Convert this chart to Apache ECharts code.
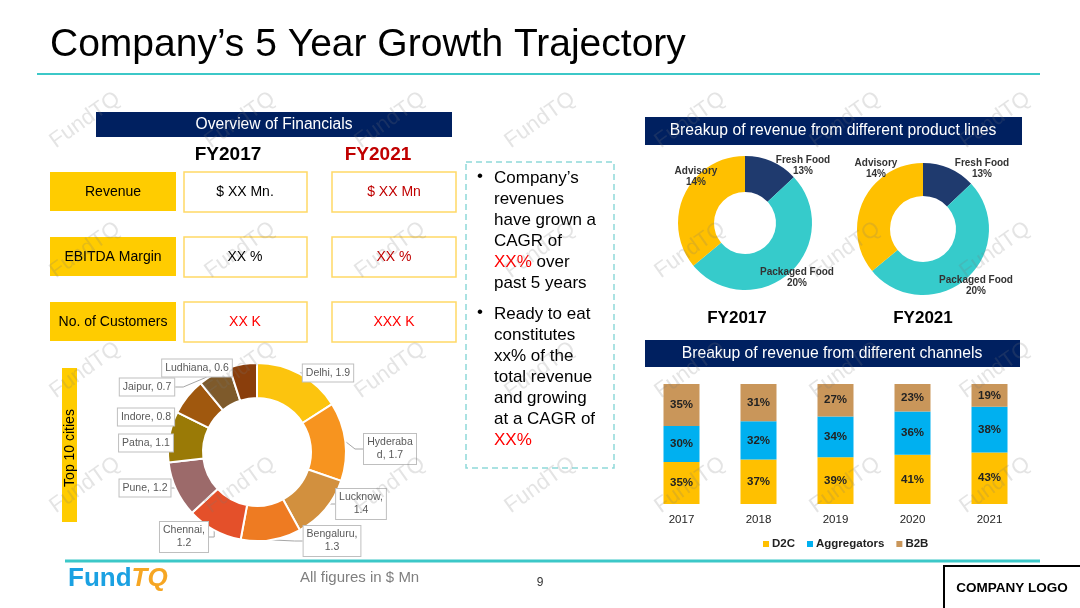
<!DOCTYPE html>
<html>
<head>
<meta charset="utf-8">
<script src="https://cdn.jsdelivr.net/npm/echarts@6/dist/echarts.min.js"></script>
<style>
html,body{margin:0;padding:0;background:#fff;}
#c{width:1080px;height:608px;}
</style>
</head>
<body>
<div id="c"></div>
<script>
// ---------- DATA ----------
const cityNames = ['Delhi','Hyderabad','Lucknow','Bengaluru','Chennai','Pune','Patna','Indore','Jaipur','Ludhiana'];
const cityValues = [1.9,1.7,1.4,1.3,1.2,1.2,1.1,0.8,0.7,0.6];
const productNames = ['Fresh Food','Packaged Food','Advisory'];
const productShare2017 = [13,51,36];
const productShare2021 = [13,51,36];
const productLabels2017 = ['13%','20%','14%'];
const productLabels2021 = ['13%','20%','14%'];
const channelYears = ['2017','2018','2019','2020','2021'];
const d2c = [35,37,39,41,43];
const aggregators = [30,32,34,36,38];
const b2b = [35,31,27,23,19];
const finRows = ['Revenue','EBITDA Margin','No. of Customers'];
const fin2017 = ['$ XX Mn.','XX %','XX K'];
const fin2021 = ['$ XX Mn','XX %','XXX K'];

// ---------- STYLES / LAYOUT ----------
const FONT = '"Liberation Sans", Arial, sans-serif';
const NAVY = '#002060';
const TEAL = '#3CC8C8';
const cityColors = ['#FCC40E','#F7941F','#D2903E','#EE7B22','#E4502A','#9C6A6A','#9A7A06','#A0580E','#7E5A2B','#8A3E0C'];
const productColors = ['#1F3A6E','#36CBCB','#FFC000'];
// label box centres (layout only)
const cityLabelPos = [[328,373],[390,449],[361,504],[332,541],[184,537],[145,488],[146,443],[146,417],[147,387],[197,368]];
const cityLabelWrap = [false,'break',true,true,true,false,false,false,false,false];
const prodLabelPos2017 = [[803,166],[797,278],[696,177]];
const prodLabelPos2021 = [[982,169],[976,286],[876,169]];

const chart = echarts.init(document.getElementById('c'), null, {renderer:'canvas'});
const g = [];
function txt(x,y,text,opt){ g.push(Object.assign({type:'text',z:10,style:Object.assign({x:x,y:y,text:text,font:'13px '+FONT,fill:'#000',textAlign:'center',textVerticalAlign:'middle'},opt||{})})); }
function rect(x,y,w,h,style){ g.push({type:'rect',z:5,shape:{x:x,y:y,width:w,height:h},style:style}); }

// watermarks
const wmX = [85,240,390,540,690,845,995];
const wmY = [120,250,370,485];
wmX.forEach(function(x){ wmY.forEach(function(y){
  g.push({type:'text',z:50,x:x,y:y,rotation:0.62,style:{text:'FundTQ',font:'22px '+FONT,fill:'rgba(120,120,120,0.2)',textAlign:'center',textVerticalAlign:'middle'}});
});});

// title
txt(50,45,'Company\u2019s 5 Year Growth Trajectory',{font:'39px '+FONT,textAlign:'left'});
g.push({type:'line',z:5,shape:{x1:37,y1:74,x2:1040,y2:74},style:{stroke:TEAL,lineWidth:2}});
g.push({type:'line',z:5,shape:{x1:65,y1:561,x2:1040,y2:561},style:{stroke:TEAL,lineWidth:3}});

// financial overview
rect(96,112,356,25,{fill:NAVY});
txt(274,125,'Overview of Financials',{font:'15.6px '+FONT,fill:'#fff'});
txt(228,155,'FY2017',{font:'bold 19px '+FONT});
txt(378,155,'FY2021',{font:'bold 19px '+FONT,fill:'#C00000'});
const rowTop = [172,237,302];
const c17 = ['#000','#000','#FF0000'];
const c21 = ['#C00000','#C00000','#FF0000'];
finRows.forEach(function(r,i){
  const y = rowTop[i];
  rect(50,y,126,39,{fill:'#FFCC00'});
  txt(113,y+20,r,{font:'14px '+FONT});
  rect(184,y,123,40,{fill:'#fff',stroke:'#FFD966',lineWidth:1.5});
  txt(245,y+20,fin2017[i],{fill:c17[i],font:'14px '+FONT});
  rect(332,y,124,40,{fill:'#fff',stroke:'#FFD966',lineWidth:1.5});
  txt(394,y+20,fin2021[i],{fill:c21[i],font:'14px '+FONT});
});

// bullet box
rect(466,162,148,306,{fill:'none',stroke:'#8ED9D9',lineWidth:1.5,lineDash:[6,4]});
const bRich = {r:{fill:'#FF0000',font:'17px '+FONT}};
g.push({type:'text',z:10,style:{x:477,y:168,text:'\u2022',font:'17px '+FONT,fill:'#000'}});
g.push({type:'text',z:10,style:{x:494,y:168,text:'Company\u2019s\nrevenues\nhave grown a\nCAGR of\n{r|XX%} over\npast 5 years',font:'17px '+FONT,fill:'#000',lineHeight:21,rich:bRich}});
g.push({type:'text',z:10,style:{x:477,y:304,text:'\u2022',font:'17px '+FONT,fill:'#000'}});
g.push({type:'text',z:10,style:{x:494,y:304,text:'Ready to eat\nconstitutes\nxx% of the\ntotal revenue\nand growing\nat a CAGR of\n{r|XX%}',font:'17px '+FONT,fill:'#000',lineHeight:21,rich:bRich}});

// top 10 cities bar
rect(62,368,15,154,{fill:'#FFCC00'});
g.push({type:'text',z:10,x:70,y:448,rotation:Math.PI/2,style:{text:'Top 10 cities',font:'14px '+FONT,fill:'#000',textAlign:'center',textVerticalAlign:'middle'}});

// product headers
rect(645,117,377,28,{fill:NAVY});
txt(833,131,'Breakup of revenue from different product lines',{font:'15.7px '+FONT,fill:'#fff'});
txt(737,318,'FY2017',{font:'bold 17px '+FONT});
txt(923,318,'FY2021',{font:'bold 17px '+FONT});
rect(645,340,375,27,{fill:NAVY});
txt(832,354,'Breakup of revenue from different channels',{font:'15.7px '+FONT,fill:'#fff'});

// footer
g.push({type:'text',z:10,style:{x:68,y:579,text:'{a|Fund}{b|TQ}',textVerticalAlign:'middle',rich:{a:{font:'bold 26px '+FONT,fill:'#1BA1E2'},b:{font:'bold italic 26px '+FONT,fill:'#F6A623'}}}});
txt(300,578,'All figures in $ Mn',{font:'15px '+FONT,fill:'#7f7f7f',textAlign:'left'});
txt(540,583,'9',{font:'12px '+FONT,fill:'#333'});
rect(944,566,140,44,{fill:'#fff',stroke:'#000',lineWidth:2});
txt(1012,588,'COMPANY LOGO',{font:'bold 13.5px '+FONT});

function prodData(shares, labels){
  return productNames.map(function(n,i){ return {name:n,value:shares[i],pct:labels[i]}; });
}
const prodLabel = {
  show:true, position:'outside', fontSize:10, fontWeight:'bold', color:'#333', fontFamily:FONT, lineHeight:11,
  formatter:function(p){ return p.name+'\n'+p.data.pct; }
};
function posLayout(arr){
  return function(p){ const q = arr[p.dataIndex]; return {x:q[0],y:q[1],align:'center',verticalAlign:'middle'}; };
}

const cityData = cityNames.map(function(n,i){
  const d = {name:n,value:cityValues[i],itemStyle:{color:cityColors[i]}};
  if (cityLabelWrap[i] === true) d.label = {formatter:'{b},\n{c}'};
  else if (cityLabelWrap[i] === 'break') d.label = {width:46,overflow:'breakAll'};
  return d;
});

const option = {
  animation:false,
  backgroundColor:'#fff',
  graphic:g,
  legend:{
    left:758, top:533, itemWidth:6, itemHeight:6, itemGap:12, icon:'rect',
    textStyle:{fontSize:11.5,fontWeight:'bold',color:'#222',fontFamily:FONT,padding:[0,0,0,-2]},
    data:['D2C','Aggregators','B2B']
  },
  grid:{left:643,top:384,width:385,height:120},
  xAxis:{type:'category',data:channelYears,axisLine:{show:false},axisTick:{show:false},
    axisLabel:{fontSize:11.5,color:'#222',margin:10,fontFamily:FONT}},
  yAxis:{type:'value',min:0,max:100,show:false},
  series:[
    {type:'pie',center:[257,452],radius:[54,89],startAngle:90,clockwise:true,
     itemStyle:{borderColor:'#fff',borderWidth:2},
     label:{show:true,formatter:'{b}, {c}',fontSize:10.5,color:'#595959',fontFamily:FONT,align:'center',
       backgroundColor:'#fff',borderColor:'#BFBFBF',borderWidth:1,padding:[2,3],lineHeight:13},
     labelLine:{show:true,length:10,length2:8,lineStyle:{color:'#A6A6A6'}},
     labelLayout:posLayout(cityLabelPos),
     data:cityData
    },
    {type:'pie',center:[745,223],radius:[31,67],startAngle:90,clockwise:true,
     label:prodLabel,labelLine:{show:false,length:2,length2:0},labelLayout:posLayout(prodLabelPos2017),
     color:productColors,data:prodData(productShare2017,productLabels2017)},
    {type:'pie',center:[923,229],radius:[33,66],startAngle:90,clockwise:true,
     label:prodLabel,labelLine:{show:false,length:2,length2:0},labelLayout:posLayout(prodLabelPos2021),
     color:productColors,data:prodData(productShare2021,productLabels2021)},
    {name:'D2C',type:'bar',stack:'s',barWidth:36,data:d2c,itemStyle:{color:'#FFC000'},
     label:{show:true,formatter:'{c}%',fontSize:11.5,fontWeight:'bold',color:'#222'}},
    {name:'Aggregators',type:'bar',stack:'s',barWidth:36,data:aggregators,itemStyle:{color:'#00B0F0'},
     label:{show:true,formatter:'{c}%',fontSize:11.5,fontWeight:'bold',color:'#222'}},
    {name:'B2B',type:'bar',stack:'s',barWidth:36,data:b2b,itemStyle:{color:'#C9965A'},
     label:{show:true,formatter:'{c}%',fontSize:11.5,fontWeight:'bold',color:'#222'}}
  ]
};
chart.setOption(option);
</script>
</body>
</html>
